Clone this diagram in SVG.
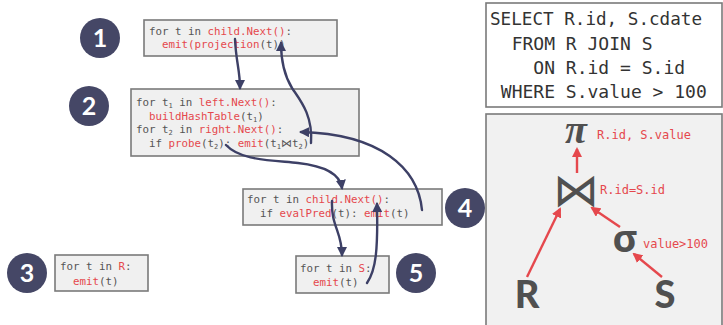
<svg xmlns="http://www.w3.org/2000/svg" width="723" height="325" viewBox="0 0 723 325">
  <style>
    .box { fill: #f0f0f0; stroke: #7a7a7a; stroke-width: 1.6; }
    .code { font-family: "DejaVu Sans Mono", "Liberation Mono", monospace; font-size: 10.8px; fill: #555; }
    .r { fill: #e5484d; }
    .sub { font-size: 7px; }
    .badge circle { fill: #454766; }
    .badge text { font-family: "Lato", "Open Sans", sans-serif; font-weight: bold; font-size: 25px; fill: #fff; text-anchor: middle; }
    .flow { fill: none; stroke: #3d4066; stroke-width: 2.4; stroke-linecap: round; }
    .sql { font-family: "DejaVu Sans Mono", monospace; font-size: 18px; fill: #333; }
    .plan { fill: none; stroke: #e5484d; stroke-width: 2.4; }
    .lbl { font-family: "DejaVu Sans Mono", monospace; font-size: 12px; fill: #e5484d; }
    .op { fill: #505050; text-anchor: middle; }
  </style>
  <defs>
    <marker id="nav" viewBox="0 0 10 10" refX="8" refY="5" markerWidth="4.2" markerHeight="4.2" orient="auto">
      <path d="M0,0 L10,5 L0,10 z" fill="#3d4066"/>
    </marker>
    <marker id="red" viewBox="0 0 10 10" refX="8" refY="5" markerWidth="4.2" markerHeight="4.2" orient="auto">
      <path d="M0,0 L10,5 L0,10 z" fill="#e5484d"/>
    </marker>
  </defs>

  <!-- operator 1: projection -->
  <g id="op1">
    <g class="badge"><circle cx="100" cy="38" r="20"/><text x="100" y="47">1</text></g>
    <rect class="box" x="144" y="20" width="193" height="36"/>
    <text class="code" xml:space="preserve"><tspan x="149" y="35">for t in <tspan class="r">child.Next()</tspan>:</tspan><tspan x="149" y="48">  <tspan class="r">emit(projection</tspan>(t))</tspan></text>
  </g>

  <!-- operator 2: hash join -->
  <g id="op2">
    <g class="badge"><circle cx="89" cy="106" r="20"/><text x="89" y="115">2</text></g>
    <rect class="box" x="131" y="89" width="228" height="67"/>
    <text class="code" xml:space="preserve"><tspan x="136" y="106">for t<tspan class="sub" dy="2">1</tspan><tspan dy="-2"> in </tspan><tspan class="r">left.Next()</tspan>:</tspan><tspan x="136" y="119.5">  <tspan class="r">buildHashTable</tspan>(t<tspan class="sub" dy="2">1</tspan><tspan dy="-2">)</tspan></tspan><tspan x="136" y="133">for t<tspan class="sub" dy="2">2</tspan><tspan dy="-2"> in </tspan><tspan class="r">right.Next()</tspan>:</tspan><tspan x="136" y="146.5">  if <tspan class="r">probe</tspan>(t<tspan class="sub" dy="2">2</tspan><tspan dy="-2">): </tspan><tspan class="r">emit</tspan>(t<tspan class="sub" dy="2">1</tspan><tspan dy="-2">⋈t</tspan><tspan class="sub" dy="2">2</tspan><tspan dy="-2">)</tspan></tspan></text>
  </g>

  <!-- operator 3: scan R -->
  <g id="op3">
    <g class="badge"><circle cx="27" cy="273" r="20"/><text x="27" y="282">3</text></g>
    <rect class="box" x="55" y="255" width="93" height="36"/>
    <text class="code" xml:space="preserve"><tspan x="60" y="270">for t in <tspan class="r">R</tspan>:</tspan><tspan x="60" y="284.5">  <tspan class="r">emit</tspan>(t)</tspan></text>
  </g>

  <!-- operator 4: filter -->
  <g id="op4">
    <g class="badge"><circle cx="465" cy="208" r="20"/><text x="465" y="217">4</text></g>
    <rect class="box" x="243" y="189" width="199" height="36"/>
    <text class="code" xml:space="preserve"><tspan x="247" y="203">for t in <tspan class="r">child.Next()</tspan>:</tspan><tspan x="247" y="216.5">  if <tspan class="r">evalPred</tspan>(t): <tspan class="r">emit</tspan>(t)</tspan></text>
  </g>

  <!-- operator 5: scan S -->
  <g id="op5">
    <g class="badge"><circle cx="416" cy="273" r="20"/><text x="416" y="282">5</text></g>
    <rect class="box" x="296" y="256" width="93" height="37"/>
    <text class="code" xml:space="preserve"><tspan x="300" y="272">for t in <tspan class="r">S</tspan>:</tspan><tspan x="300" y="286">  <tspan class="r">emit</tspan>(t)</tspan></text>
  </g>

  <!-- control / data flow between operators -->
  <g id="connectors">
    <path class="flow" marker-end="url(#nav)" d="M235,39 C236,62 240,70 240,88"/>
    <path class="flow" marker-end="url(#nav)" d="M311,143 C313,115 300,100 292,88 C284,75 281,62 281,43"/>
    <path class="flow" marker-end="url(#nav)" d="M226,145 C240,160 268,160 298,163 C325,166 340,174 342,188"/>
    <path class="flow" marker-end="url(#nav)" d="M422,210 C418,168 380,134 301,132"/>
    <path class="flow" marker-end="url(#nav)" d="M332,201 C331,226 342,232 342,255"/>
    <path class="flow" marker-end="url(#nav)" d="M367,283 C376,270 378,250 377,204"/>
  </g>

  <!-- SQL query -->
  <g id="query">
    <rect x="486" y="3" width="236" height="104" fill="#fff" stroke="#7a7a7a" stroke-width="1.6"/>
    <text class="sql" xml:space="preserve"><tspan x="490" y="25" textLength="212" lengthAdjust="spacingAndGlyphs">SELECT R.id, S.cdate</tspan><tspan x="490" y="50">  FROM R JOIN S</tspan><tspan x="490" y="74">    ON R.id = S.id</tspan><tspan x="490" y="98"> WHERE S.value &gt; 100</tspan></text>
  </g>

  <!-- query plan tree -->
  <g id="plan">
    <rect x="486" y="114" width="236" height="212" fill="#f1f1f1" stroke="#7a7a7a" stroke-width="1.6"/>
    <text class="op" x="576" y="143" font-family="Liberation Serif, serif" font-weight="bold" font-style="italic" font-size="40">π</text>
    <text class="lbl" x="597" y="139">R.id, S.value</text>
    <text class="op" x="576" y="206" font-family="DejaVu Sans, sans-serif" font-size="46">⋈</text>
    <text class="lbl" x="600" y="194">R.id=S.id</text>
    <text class="op" x="625" y="252" font-family="Open Sans, sans-serif" font-weight="bold" font-size="38">σ</text>
    <text class="lbl" x="643" y="248">value&gt;100</text>
    <text class="op" x="527" y="308" font-family="Lato, sans-serif" font-weight="900" font-size="38">R</text>
    <text class="op" x="665" y="308" font-family="Lato, sans-serif" font-weight="900" font-size="38">S</text>
    <path class="plan" marker-end="url(#red)" d="M577,173 L577,149"/>
    <path class="plan" marker-end="url(#red)" d="M527,277 L560,209"/>
    <path class="plan" marker-end="url(#red)" d="M620,227 L592,208"/>
    <path class="plan" marker-end="url(#red)" d="M662,277 L634,254"/>
  </g>
</svg>
